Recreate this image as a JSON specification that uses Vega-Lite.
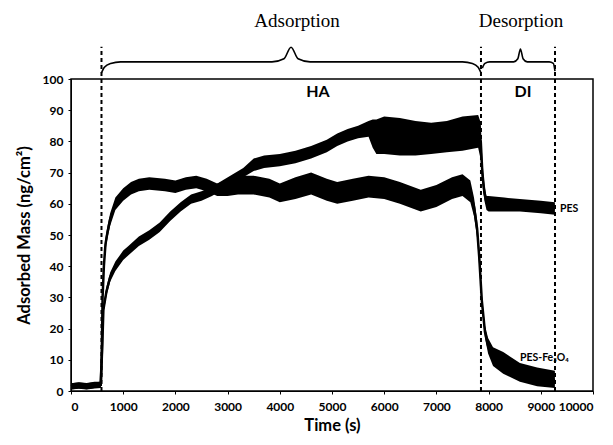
{
  "$schema": "https://vega.github.io/schema/vega-lite/v6.json",
  "autosize": "none",
  "width": 522,
  "height": 312,
  "padding": {"left": 71, "top": 79, "right": 20, "bottom": 54},
  "background": "white",
  "config": {
    "view": {"stroke": "black", "strokeWidth": 1.5},
    "axis": {"grid": false, "domainColor": "black", "tickColor": "black", "labelColor": "black", "titleColor": "black", "labelFont": "Lato", "titleFont": "Lato", "labelFontWeight": "bold", "titleFontWeight": "bold", "labelFontSize": 12, "titleFontSize": 16.5, "tickSize": 3, "labelOverlap": false}
  },
  "datasets": {
    "series": [
      {"s": "PES", "t": 0, "lo": 0.5, "mid": 1.5, "hi": 2.5},
      {"s": "PES", "t": 150, "lo": 0.8, "mid": 1.8, "hi": 2.8},
      {"s": "PES", "t": 300, "lo": 0.6, "mid": 1.6, "hi": 2.6},
      {"s": "PES", "t": 450, "lo": 1, "mid": 2, "hi": 3},
      {"s": "PES", "t": 570, "lo": 1, "mid": 2, "hi": 3},
      {"s": "PES", "t": 600, "lo": 13.5, "mid": 15, "hi": 16.5},
      {"s": "PES", "t": 620, "lo": 24.5, "mid": 26, "hi": 27.5},
      {"s": "PES", "t": 680, "lo": 30.5, "mid": 32, "hi": 33.5},
      {"s": "PES", "t": 750, "lo": 35, "mid": 36.5, "hi": 38},
      {"s": "PES", "t": 850, "lo": 38.5, "mid": 40, "hi": 41.5},
      {"s": "PES", "t": 1000, "lo": 42, "mid": 43.5, "hi": 45},
      {"s": "PES", "t": 1100, "lo": 43.5, "mid": 45, "hi": 46.5},
      {"s": "PES", "t": 1300, "lo": 46.5, "mid": 48, "hi": 49.5},
      {"s": "PES", "t": 1500, "lo": 48.5, "mid": 50, "hi": 51.5},
      {"s": "PES", "t": 1700, "lo": 51, "mid": 52.5, "hi": 54},
      {"s": "PES", "t": 1900, "lo": 54.5, "mid": 56, "hi": 57.5},
      {"s": "PES", "t": 2100, "lo": 57.5, "mid": 59, "hi": 60.5},
      {"s": "PES", "t": 2300, "lo": 60, "mid": 61.5, "hi": 63},
      {"s": "PES", "t": 2500, "lo": 61, "mid": 62.5, "hi": 64},
      {"s": "PES", "t": 2700, "lo": 62.5, "mid": 64, "hi": 65.5},
      {"s": "PES", "t": 2900, "lo": 64.5, "mid": 66, "hi": 67.5},
      {"s": "PES", "t": 3100, "lo": 66.5, "mid": 68, "hi": 69.5},
      {"s": "PES", "t": 3300, "lo": 68.5, "mid": 70, "hi": 71.5},
      {"s": "PES", "t": 3500, "lo": 70.5, "mid": 72.5, "hi": 74.5},
      {"s": "PES", "t": 3700, "lo": 71.5, "mid": 73.5, "hi": 75.5},
      {"s": "PES", "t": 4000, "lo": 72, "mid": 74, "hi": 76},
      {"s": "PES", "t": 4300, "lo": 73, "mid": 75, "hi": 77},
      {"s": "PES", "t": 4600, "lo": 74.5, "mid": 76.5, "hi": 78.5},
      {"s": "PES", "t": 4900, "lo": 76.5, "mid": 78.5, "hi": 80.5},
      {"s": "PES", "t": 5100, "lo": 78.5, "mid": 80.5, "hi": 82.5},
      {"s": "PES", "t": 5300, "lo": 80, "mid": 82, "hi": 84},
      {"s": "PES", "t": 5500, "lo": 81, "mid": 83, "hi": 85},
      {"s": "PES", "t": 5700, "lo": 81.5, "mid": 84, "hi": 86.5},
      {"s": "PES", "t": 5780, "lo": 78, "mid": 83, "hi": 87},
      {"s": "PES", "t": 5850, "lo": 76, "mid": 81.5, "hi": 87},
      {"s": "PES", "t": 6000, "lo": 76, "mid": 82, "hi": 88},
      {"s": "PES", "t": 6300, "lo": 75.5, "mid": 81.5, "hi": 87.5},
      {"s": "PES", "t": 6600, "lo": 75.5, "mid": 81, "hi": 86.5},
      {"s": "PES", "t": 6900, "lo": 76, "mid": 81, "hi": 86},
      {"s": "PES", "t": 7200, "lo": 76.5, "mid": 81.5, "hi": 86.5},
      {"s": "PES", "t": 7500, "lo": 77, "mid": 82.5, "hi": 88},
      {"s": "PES", "t": 7800, "lo": 78, "mid": 83, "hi": 88.5},
      {"s": "PES", "t": 7850, "lo": 74, "mid": 80, "hi": 86},
      {"s": "PES", "t": 7880, "lo": 66, "mid": 70, "hi": 74},
      {"s": "PES", "t": 7920, "lo": 61, "mid": 63.5, "hi": 66},
      {"s": "PES", "t": 7960, "lo": 58, "mid": 60.5, "hi": 62.5},
      {"s": "PES", "t": 8000, "lo": 57.5, "mid": 60, "hi": 62.5},
      {"s": "PES", "t": 8300, "lo": 57.5, "mid": 59.8, "hi": 62},
      {"s": "PES", "t": 8600, "lo": 57.5, "mid": 59.5, "hi": 61.5},
      {"s": "PES", "t": 9000, "lo": 57, "mid": 59, "hi": 61},
      {"s": "PES", "t": 9270, "lo": 56.5, "mid": 58.5, "hi": 60.5},
      {"s": "Fe", "t": 0, "lo": 0.5, "mid": 1.5, "hi": 2.5},
      {"s": "Fe", "t": 150, "lo": 0.7, "mid": 1.7, "hi": 2.7},
      {"s": "Fe", "t": 300, "lo": 0.5, "mid": 1.5, "hi": 2.5},
      {"s": "Fe", "t": 450, "lo": 0.8, "mid": 1.8, "hi": 2.8},
      {"s": "Fe", "t": 570, "lo": 1, "mid": 2, "hi": 3},
      {"s": "Fe", "t": 590, "lo": 10, "mid": 12, "hi": 14},
      {"s": "Fe", "t": 605, "lo": 28, "mid": 30, "hi": 32},
      {"s": "Fe", "t": 630, "lo": 38, "mid": 40, "hi": 42},
      {"s": "Fe", "t": 660, "lo": 45, "mid": 47, "hi": 49},
      {"s": "Fe", "t": 700, "lo": 49, "mid": 51, "hi": 53},
      {"s": "Fe", "t": 750, "lo": 53, "mid": 55, "hi": 57},
      {"s": "Fe", "t": 850, "lo": 58, "mid": 60, "hi": 62},
      {"s": "Fe", "t": 1000, "lo": 61, "mid": 63, "hi": 65},
      {"s": "Fe", "t": 1150, "lo": 63, "mid": 65, "hi": 67},
      {"s": "Fe", "t": 1300, "lo": 64, "mid": 66, "hi": 68},
      {"s": "Fe", "t": 1500, "lo": 64.5, "mid": 66.5, "hi": 68.5},
      {"s": "Fe", "t": 1800, "lo": 64, "mid": 66, "hi": 68},
      {"s": "Fe", "t": 2000, "lo": 63.5, "mid": 65.5, "hi": 67.5},
      {"s": "Fe", "t": 2200, "lo": 64.5, "mid": 66.5, "hi": 68.5},
      {"s": "Fe", "t": 2400, "lo": 65, "mid": 67, "hi": 69},
      {"s": "Fe", "t": 2600, "lo": 64, "mid": 66, "hi": 68},
      {"s": "Fe", "t": 2800, "lo": 62.5, "mid": 64.5, "hi": 66.5},
      {"s": "Fe", "t": 3000, "lo": 62.5, "mid": 65, "hi": 67.5},
      {"s": "Fe", "t": 3200, "lo": 63, "mid": 66, "hi": 69},
      {"s": "Fe", "t": 3500, "lo": 63, "mid": 66, "hi": 69},
      {"s": "Fe", "t": 3800, "lo": 62, "mid": 65, "hi": 68},
      {"s": "Fe", "t": 4000, "lo": 60.5, "mid": 63.5, "hi": 66.5},
      {"s": "Fe", "t": 4300, "lo": 61.5, "mid": 65, "hi": 68.5},
      {"s": "Fe", "t": 4600, "lo": 63, "mid": 66.5, "hi": 70},
      {"s": "Fe", "t": 4900, "lo": 61, "mid": 64.5, "hi": 68},
      {"s": "Fe", "t": 5100, "lo": 60, "mid": 63.5, "hi": 67},
      {"s": "Fe", "t": 5400, "lo": 61, "mid": 64.5, "hi": 68},
      {"s": "Fe", "t": 5700, "lo": 62, "mid": 65.5, "hi": 69},
      {"s": "Fe", "t": 6000, "lo": 61.5, "mid": 65, "hi": 68.5},
      {"s": "Fe", "t": 6300, "lo": 60, "mid": 63.5, "hi": 67},
      {"s": "Fe", "t": 6700, "lo": 57.5, "mid": 61, "hi": 64.5},
      {"s": "Fe", "t": 7000, "lo": 59, "mid": 62.5, "hi": 66},
      {"s": "Fe", "t": 7300, "lo": 61.5, "mid": 65, "hi": 68.5},
      {"s": "Fe", "t": 7500, "lo": 62.5, "mid": 66, "hi": 69.5},
      {"s": "Fe", "t": 7650, "lo": 60.5, "mid": 64, "hi": 67.5},
      {"s": "Fe", "t": 7720, "lo": 56, "mid": 59, "hi": 62},
      {"s": "Fe", "t": 7780, "lo": 49, "mid": 52, "hi": 55},
      {"s": "Fe", "t": 7820, "lo": 40, "mid": 43, "hi": 46},
      {"s": "Fe", "t": 7870, "lo": 27, "mid": 29, "hi": 31},
      {"s": "Fe", "t": 7930, "lo": 17, "mid": 19, "hi": 21},
      {"s": "Fe", "t": 7990, "lo": 12, "mid": 14.5, "hi": 17},
      {"s": "Fe", "t": 8085, "lo": 8, "mid": 11, "hi": 14},
      {"s": "Fe", "t": 8280, "lo": 5.5, "mid": 9, "hi": 12.5},
      {"s": "Fe", "t": 8600, "lo": 3, "mid": 6, "hi": 9},
      {"s": "Fe", "t": 8930, "lo": 1.5, "mid": 4.5, "hi": 7.5},
      {"s": "Fe", "t": 9270, "lo": 1, "mid": 3.5, "hi": 6.5}
    ],
    "dashes": [
      {"t": 584, "y0": 0, "y1": 110.3},
      {"t": 7854, "y0": 0, "y1": 110.3},
      {"t": 9272, "y0": 0, "y1": 110.3}
    ],
    "braces": [
      {"b": "A", "t": 584, "v": 102},
      {"b": "A", "t": 640, "v": 103.8},
      {"b": "A", "t": 760, "v": 105},
      {"b": "A", "t": 950, "v": 105.5},
      {"b": "A", "t": 3850, "v": 105.5},
      {"b": "A", "t": 4080, "v": 106.5},
      {"b": "A", "t": 4215, "v": 110.2},
      {"b": "A", "t": 4350, "v": 106.5},
      {"b": "A", "t": 4580, "v": 105.5},
      {"b": "A", "t": 7500, "v": 105.5},
      {"b": "A", "t": 7690, "v": 105},
      {"b": "A", "t": 7800, "v": 103.8},
      {"b": "A", "t": 7854, "v": 102},
      {"b": "D", "t": 7880, "v": 103.5},
      {"b": "D", "t": 7930, "v": 105},
      {"b": "D", "t": 8020, "v": 105.5},
      {"b": "D", "t": 8480, "v": 105.5},
      {"b": "D", "t": 8560, "v": 106.5},
      {"b": "D", "t": 8610, "v": 109.6},
      {"b": "D", "t": 8660, "v": 106.5},
      {"b": "D", "t": 8740, "v": 105.5},
      {"b": "D", "t": 9160, "v": 105.5},
      {"b": "D", "t": 9240, "v": 105},
      {"b": "D", "t": 9272, "v": 102.5}
    ],
    "serifLabels": [
      {"t": 4330, "v": 118.7, "label": "Adsorption"},
      {"t": 8620, "v": 118.7, "label": "Desorption"}
    ],
    "boldLabels": [
      {"t": 4730, "v": 95.8, "label": "HA"},
      {"t": 8660, "v": 95.8, "label": "DI"}
    ],
    "seriesLabels": [
      {"t": 9368, "v": 58.3, "label": "PES"},
      {"t": 8600, "v": 10.6, "label": "PES-Fe₃O₄"}
    ]
  },
  "layer": [
    {
      "data": {"name": "series"},
      "mark": {"type": "line", "color": "black", "strokeWidth": 2.5},
      "encoding": {
        "x": {"field": "t", "type": "quantitative", "scale": {"domain": [0, 10000], "nice": false}, "axis": {"title": "Time (s)", "values": [0,1000,2000,3000,4000,5000,6000,7000,8000,9000,10000], "tickCount": 20, "labelPadding": 7, "titlePadding": 5, "format": "d", "labelOverlap": false}},
        "y": {"field": "mid", "type": "quantitative", "scale": {"domain": [0, 100], "nice": false}, "axis": {"title": "Adsorbed Mass (ng/cm²)", "values": [0,10,20,30,40,50,60,70,80,90,100], "tickCount": 20, "labelPadding": 5, "titlePadding": 10, "labelOverlap": false, "format": "d"}},
        "detail": {"field": "s"}
      }
    },
    {
      "data": {"name": "series"},
      "mark": {"type": "area", "color": "black", "opacity": 1},
      "encoding": {
        "x": {"field": "t", "type": "quantitative"},
        "y": {"field": "lo", "type": "quantitative"},
        "y2": {"field": "hi"},
        "detail": {"field": "s"}
      }
    },
    {
      "data": {"name": "dashes"},
      "mark": {"type": "rule", "color": "black", "strokeWidth": 2, "strokeDash": [4, 3]},
      "encoding": {
        "x": {"field": "t", "type": "quantitative"},
        "y": {"field": "y0", "type": "quantitative"},
        "y2": {"field": "y1"}
      }
    },
    {
      "data": {"name": "braces"},
      "mark": {"type": "line", "color": "black", "strokeWidth": 1.6, "interpolate": "monotone"},
      "encoding": {
        "x": {"field": "t", "type": "quantitative"},
        "y": {"field": "v", "type": "quantitative"},
        "detail": {"field": "b"}
      }
    },
    {
      "data": {"name": "serifLabels"},
      "mark": {"type": "text", "font": "Liberation Serif", "fontSize": 19, "color": "black", "align": "center", "baseline": "middle"},
      "encoding": {
        "x": {"field": "t", "type": "quantitative"},
        "y": {"field": "v", "type": "quantitative"},
        "text": {"field": "label"}
      }
    },
    {
      "data": {"name": "boldLabels"},
      "mark": {"type": "text", "font": "Lato", "fontWeight": "bold", "fontSize": 16, "color": "black", "align": "center", "baseline": "middle"},
      "encoding": {
        "x": {"field": "t", "type": "quantitative"},
        "y": {"field": "v", "type": "quantitative"},
        "text": {"field": "label"}
      }
    },
    {
      "data": {"name": "seriesLabels"},
      "mark": {"type": "text", "font": "Lato", "fontWeight": "bold", "fontSize": 10.5, "color": "black", "align": "left", "baseline": "middle"},
      "encoding": {
        "x": {"field": "t", "type": "quantitative"},
        "y": {"field": "v", "type": "quantitative"},
        "text": {"field": "label"}
      }
    }
  ]
}
